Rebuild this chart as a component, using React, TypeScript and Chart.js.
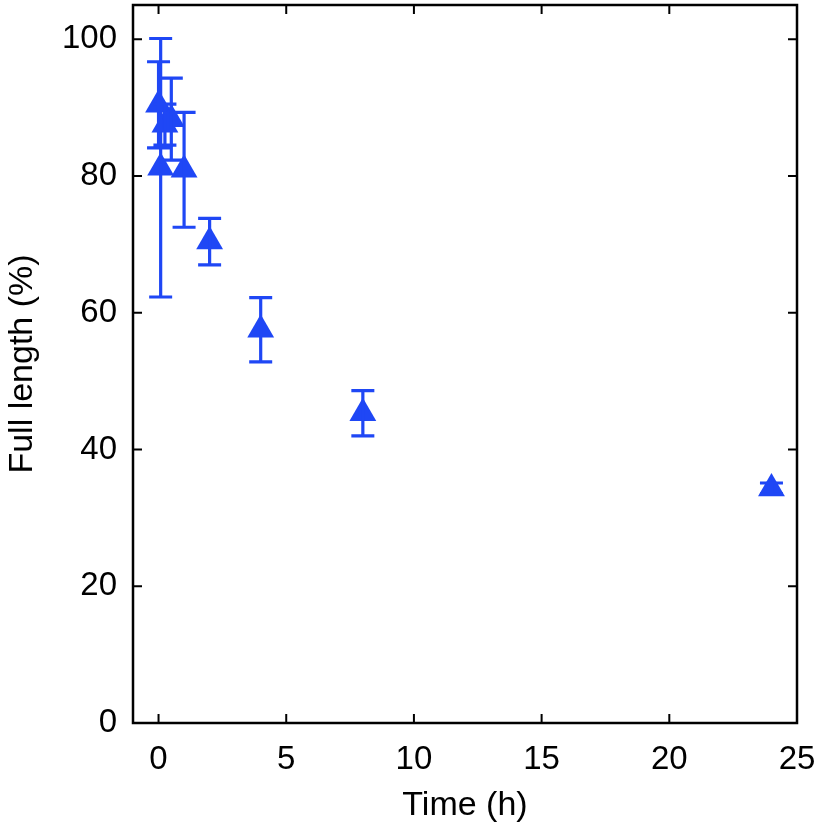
import React, { useEffect, useRef } from "react";
import { Chart, registerables } from "chart.js";

Chart.register(...registerables);

const times = [0, 0.083, 0.25, 0.5, 1, 2, 4, 8, 24];
const fullLength = [90.4, 81.2, 87.5, 88.3, 80.9, 70.4, 57.5, 45.3, 34.3];
const errors = [6.3, 18.9, 3.0, 6.0, 8.4, 3.4, 4.7, 3.3, 0.8];
const xTicks = [0, 5, 10, 15, 20, 25];
const yTicks = [0, 20, 40, 60, 80, 100];

const BLUE = "#1f47f5";
const FONT = "'Liberation Sans', Arial, Helvetica, sans-serif";

const framePlugin = {
  id: "frameTicks",
  afterDraw(chart: any) {
    const { ctx, chartArea } = chart;
    const { left, right, top, bottom } = chartArea;
    const xs = chart.scales.x;
    const ys = chart.scales.y;
    const tl = 9;
    ctx.save();
    ctx.strokeStyle = "#000";
    ctx.lineWidth = 2.5;
    ctx.strokeRect(left, top, right - left, bottom - top);
    ctx.lineWidth = 2;
    ctx.beginPath();
    xTicks.forEach((v) => {
      const px = xs.getPixelForValue(v);
      if (px > left + 2 && px < right - 2) {
        ctx.moveTo(px, bottom);
        ctx.lineTo(px, bottom - tl);
        ctx.moveTo(px, top);
        ctx.lineTo(px, top + tl);
      }
    });
    yTicks.forEach((v) => {
      const py = ys.getPixelForValue(v);
      if (py > top + 2 && py < bottom - 2) {
        ctx.moveTo(left, py);
        ctx.lineTo(left + tl, py);
        ctx.moveTo(right, py);
        ctx.lineTo(right - tl, py);
      }
    });
    ctx.stroke();
    ctx.restore();
  },
};

const errorBarPlugin = {
  id: "errorBars",
  afterDatasetsDraw(chart: any) {
    const { ctx } = chart;
    const xs = chart.scales.x;
    const ys = chart.scales.y;
    const cap = 11.5;
    ctx.save();
    ctx.strokeStyle = BLUE;
    ctx.lineWidth = 3.2;
    ctx.beginPath();
    times.forEach((t, i) => {
      const px = xs.getPixelForValue(t);
      const hi = ys.getPixelForValue(fullLength[i] + errors[i]);
      const lo = ys.getPixelForValue(fullLength[i] - errors[i]);
      ctx.moveTo(px, hi);
      ctx.lineTo(px, lo);
      ctx.moveTo(px - cap, hi);
      ctx.lineTo(px + cap, hi);
      ctx.moveTo(px - cap, lo);
      ctx.lineTo(px + cap, lo);
    });
    ctx.stroke();
    ctx.restore();
  },
};

export default function App() {
  const ref = useRef<HTMLCanvasElement | null>(null);
  useEffect(() => {
    if (!ref.current) return;
    const chart = new Chart(ref.current, {
      type: "scatter",
      data: {
        datasets: [
          {
            data: times.map((t, i) => ({ x: t, y: fullLength[i] })),
            pointStyle: "triangle",
            pointRadius: 15.5,
            backgroundColor: BLUE,
            borderColor: BLUE,
            borderWidth: 0,
          },
        ],
      },
      options: {
        animation: false,
        responsive: false,
        maintainAspectRatio: false,
        layout: { autoPadding: false, padding: { top: 5, right: 23, left: 0, bottom: 0 } },
        plugins: { legend: { display: false }, tooltip: { enabled: false } },
        scales: {
          x: {
            type: "linear",
            min: -1,
            max: 25,
            grid: { display: false, drawTicks: false },
            border: { display: false },
            afterBuildTicks: (s: any) => {
              s.ticks = xTicks.map((v) => ({ value: v }));
            },
            afterFit: (s: any) => {
              s.height = 107;
              s.paddingLeft = 0;
              s.paddingRight = 0;
            },
            ticks: {
              padding: 17,
              color: "#000",
              font: { family: FONT, size: 33 },
              maxRotation: 0,
            },
            title: {
              display: true,
              text: "Time (h)",
              color: "#000",
              font: { family: FONT, size: 34 },
              padding: { top: 0, bottom: 4 },
            },
          },
          y: {
            type: "linear",
            min: 0,
            max: 105,
            grid: { display: false, drawTicks: false },
            border: { display: false },
            afterBuildTicks: (s: any) => {
              s.ticks = yTicks.map((v) => ({ value: v }));
            },
            afterFit: (s: any) => {
              s.width = 133;
              s.paddingTop = 0;
              s.paddingBottom = 0;
            },
            ticks: {
              padding: 16,
              color: "#000",
              font: { family: FONT, size: 33 },
            },
            title: {
              display: true,
              text: "Full length (%)",
              color: "#000",
              font: { family: FONT, size: 34 },
              padding: { top: 2, bottom: 0 },
            },
          },
        },
      },
      plugins: [errorBarPlugin, framePlugin],
    });
    return () => chart.destroy();
  }, []);
  return (
    <div style={{ position: "absolute", left: 0, top: 0, width: 820, height: 830, background: "#fff" }}>
      <canvas ref={ref} width={820} height={830} style={{ width: 820, height: 830 }} />
    </div>
  );
}
